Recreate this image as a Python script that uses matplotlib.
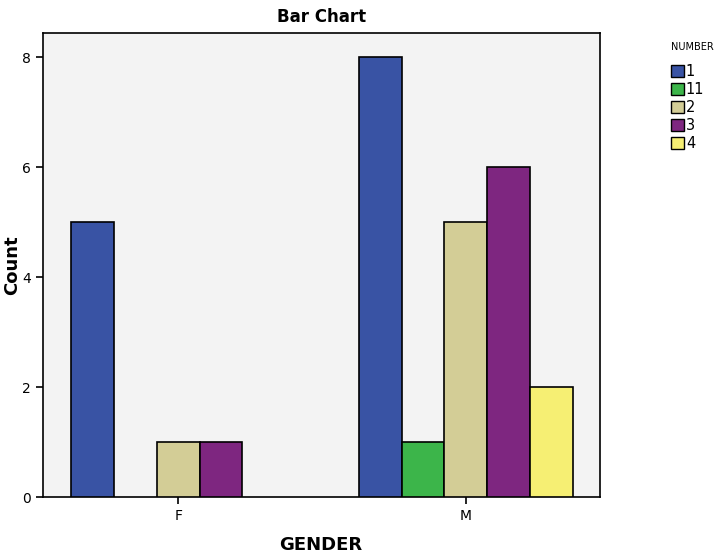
import numpy as np
import matplotlib
matplotlib.use('Agg')
import matplotlib.pyplot as plt
from matplotlib.patches import Patch

genders = ['F', 'M']
numbers = ['1', '11', '2', '3', '4']
counts = {
    '1': [5, 8],
    '11': [0, 1],
    '2': [1, 5],
    '3': [1, 6],
    '4': [0, 2],
}
colors = ['#3953a4', '#3cb54a', '#d3cd96', '#7e2680', '#f6ef73']

fig = plt.figure(figsize=(7.21, 5.55), dpi=100)
ax = fig.add_axes([0.0596, 0.1045, 0.772, 0.836])
ax.set_facecolor('#f3f3f3')

x = np.arange(len(genders))
width = 0.149
for i, num in enumerate(numbers):
    offs = (i - 2) * width
    vals = counts[num]
    for j, v in enumerate(vals):
        if v > 0:
            ax.bar(x[j] + offs, v, width, color=colors[i], edgecolor='black', linewidth=1.2, zorder=3)

ax.set_xlim(-0.47, 1.465)
ax.set_ylim(0, 8.44)
ax.set_xticks(x)
ax.set_xticklabels(genders, fontsize=10)
ax.set_yticks([0, 2, 4, 6, 8])
ax.tick_params(axis='both', direction='out', length=5, width=1.2, labelsize=10)
for s in ax.spines.values():
    s.set_linewidth(1.2)

ax.set_title('Bar Chart', fontsize=12, fontweight='bold', pad=8)
fig.text(12 / 721, 1 - 265 / 555, 'Count', fontsize=13, fontweight='bold',
         rotation=90, ha='center', va='center')
fig.text(321 / 721, 1 - 545 / 555, 'GENDER', fontsize=13, fontweight='bold',
         ha='center', va='center')

handles = [Patch(facecolor=c, edgecolor='black', label=n) for c, n in zip(colors, numbers)]
leg = fig.legend(handles=handles, title='NUMBER', loc='upper left', bbox_to_anchor=(0.93, 0.925),
                 frameon=False, fontsize=10.5, title_fontsize=7, handlelength=0.9, handleheight=0.9,
                 handletextpad=0.15, labelspacing=0.2, borderpad=0, borderaxespad=0)
leg._legend_box.align = 'left'
leg._legend_box.sep = 9

fig.savefig('out.png', dpi=100)
